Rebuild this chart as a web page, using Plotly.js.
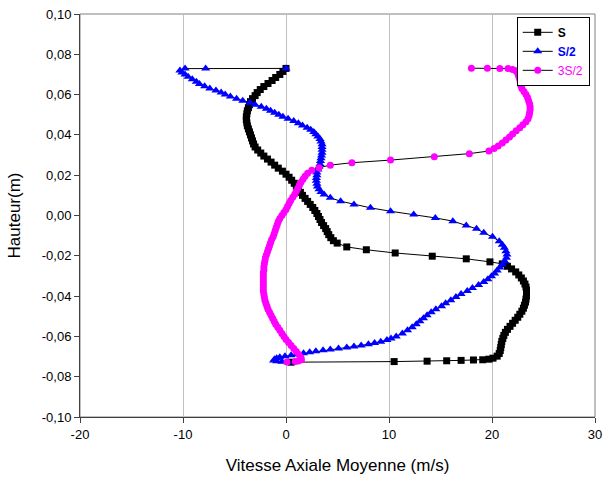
<!DOCTYPE html>
<html>
<head>
<meta charset="utf-8">
<script src="https://cdn.plot.ly/plotly-3.0.1.min.js"></script>
<style>html,body{margin:0;padding:0;background:#fff;}#chart{width:605px;height:486px;}</style>
</head>
<body>
<div id="chart"></div>
<script>
// ---- Series S (black squares) ----
const sVitesse = [0.0,-0.3,-0.6,-1.0,-1.35,-1.75,-2.15,-2.5,-2.8,-3.0,-3.25,-3.45,-3.55,-3.65,-3.75,-3.8,-3.85,-3.85,-3.8,-3.75,-3.65,-3.55,-3.45,-3.35,-3.25,-3.15,-3.0,-2.75,-2.45,-2.15,-1.8,-1.45,-1.1,-0.75,-0.35,0.0,0.3,0.55,0.8,1.0,1.2,1.4,1.6,1.85,2.1,2.35,2.6,2.8,3.0,3.15,3.3,3.45,3.65,3.85,4.0,4.15,4.35,4.6,4.97,5.9,7.8,10.6,14.2,17.5,19.8,21.0,21.5,21.9,22.3,22.6,22.85,23.05,23.2,23.3,23.35,23.35,23.35,23.3,23.25,23.15,23.05,22.9,22.7,22.5,22.25,22.0,21.75,21.5,21.3,21.15,21.05,20.95,20.9,20.85,20.8,20.7,20.5,20.1,19.7,19.1,18.2,17.0,15.6,13.7,10.5,0.5];
const sHauteur = [0.073,0.0715,0.070,0.0685,0.067,0.0655,0.064,0.0625,0.061,0.0595,0.058,0.0565,0.055,0.0535,0.052,0.0505,0.049,0.0475,0.046,0.0445,0.043,0.0415,0.040,0.0385,0.037,0.0355,0.034,0.0325,0.031,0.0295,0.028,0.0265,0.025,0.0235,0.022,0.0205,0.019,0.0175,0.016,0.0145,0.013,0.0115,0.010,0.0085,0.007,0.0055,0.004,0.0025,0.001,-0.0005,-0.002,-0.0035,-0.005,-0.0065,-0.008,-0.0095,-0.011,-0.0125,-0.0137,-0.0156,-0.017,-0.0186,-0.0202,-0.0215,-0.023,-0.024,-0.0252,-0.0265,-0.028,-0.0295,-0.031,-0.0325,-0.034,-0.0355,-0.037,-0.0385,-0.040,-0.0415,-0.043,-0.0445,-0.046,-0.0475,-0.049,-0.0505,-0.052,-0.0535,-0.055,-0.0565,-0.058,-0.0595,-0.061,-0.0625,-0.064,-0.0655,-0.067,-0.0685,-0.0698,-0.0708,-0.0713,-0.0716,-0.0717,-0.0719,-0.0721,-0.0723,-0.0725,-0.0728];

// ---- Series S/2 (blue triangles) ----
const s2Vitesse = [0.0,-7.8,-9.8,-10.3,-10.1,-9.8,-9.5,-9.1,-8.7,-8.4,-7.9,-7.4,-6.8,-6.3,-5.9,-5.4,-4.8,-4.2,-3.5,-3.0,-2.4,-1.9,-1.5,-1.1,-0.7,-0.3,0.2,0.75,1.2,1.6,2.05,2.4,2.7,2.9,3.1,3.3,3.4,3.5,3.5,3.5,3.5,3.45,3.4,3.35,3.3,3.2,3.1,3.0,3.0,2.95,2.95,3.0,3.05,3.2,3.4,3.7,4.3,5.3,6.6,8.2,10.15,12.4,14.5,16.2,17.5,18.5,19.2,20.05,20.7,21.0,21.2,21.35,21.45,21.4,21.25,21.0,20.75,20.5,20.25,19.95,19.6,19.2,18.7,18.1,17.6,17.0,16.5,16.0,15.5,15.1,14.55,14.1,13.7,13.35,13.0,12.65,12.25,11.8,11.3,10.7,10.2,9.8,9.2,8.6,8.0,7.3,6.6,5.9,5.1,4.3,3.6,2.9,2.3,1.7,1.1,0.5,-0.1,-0.6,-0.9,-1.1,-1.2,-0.9,-0.4,0.2];
const s2Hauteur = [0.0730,0.0730,0.0729,0.0720,0.0710,0.0700,0.0688,0.0676,0.0664,0.0652,0.0641,0.0630,0.0620,0.0610,0.0600,0.0590,0.0580,0.0570,0.0560,0.0550,0.0540,0.0530,0.0520,0.0510,0.0500,0.0490,0.0480,0.0469,0.0458,0.0447,0.0436,0.0425,0.0414,0.0403,0.0392,0.0380,0.0367,0.0354,0.0340,0.0326,0.0312,0.0298,0.0284,0.0270,0.0256,0.0242,0.0228,0.0214,0.0200,0.0186,0.0172,0.0158,0.0144,0.0130,0.0117,0.0104,0.0088,0.0071,0.0055,0.0038,0.0021,0.0005,-0.0012,-0.0028,-0.0050,-0.0066,-0.0086,-0.0106,-0.0128,-0.0145,-0.0160,-0.0177,-0.0194,-0.0210,-0.0227,-0.0243,-0.0258,-0.0273,-0.0288,-0.0302,-0.0316,-0.0330,-0.0345,-0.0360,-0.0375,-0.0390,-0.0405,-0.0420,-0.0435,-0.0450,-0.0465,-0.0480,-0.0495,-0.0510,-0.0525,-0.0540,-0.0555,-0.0570,-0.0585,-0.0600,-0.0610,-0.0618,-0.0626,-0.0633,-0.0639,-0.0645,-0.0650,-0.0655,-0.0660,-0.0665,-0.0669,-0.0674,-0.0679,-0.0684,-0.0689,-0.0694,-0.0699,-0.0704,-0.0709,-0.0714,-0.0719,-0.0723,-0.0726,-0.0728];

// ---- Series 3S/2 (magenta circles) ----
const s3Vitesse = [18.0,19.55,20.76,21.56,22.0,22.3,22.5,22.6,22.7,22.75,22.8,22.9,23.1,23.3,23.45,23.55,23.65,23.7,23.7,23.65,23.6,23.5,23.3,23.0,22.7,22.35,22.0,21.7,21.35,21.0,20.6,20.2,19.7,17.8,14.4,10.15,6.4,4.3,3.2,2.5,2.1,1.85,1.65,1.45,1.3,1.15,1.0,0.85,0.65,0.45,0.3,0.15,0.0,-0.2,-0.4,-0.6,-0.75,-0.85,-0.95,-1.05,-1.15,-1.25,-1.4,-1.5,-1.6,-1.7,-1.8,-1.9,-2.0,-2.05,-2.1,-2.15,-2.15,-2.2,-2.2,-2.2,-2.2,-2.2,-2.2,-2.2,-2.15,-2.1,-2.05,-1.95,-1.85,-1.75,-1.6,-1.45,-1.3,-1.15,-1.0,-0.8,-0.6,-0.4,-0.2,0.0,0.25,0.5,0.75,1.0,1.25,1.45,1.5,1.2,0.9,0.1];
const s3Hauteur = [0.0731,0.0731,0.0729,0.0729,0.0725,0.0718,0.0705,0.069,0.0675,0.066,0.0645,0.063,0.0615,0.060,0.0585,0.057,0.0555,0.054,0.0525,0.051,0.0495,0.048,0.0465,0.045,0.0435,0.042,0.0405,0.039,0.0375,0.036,0.0345,0.0333,0.032,0.0307,0.0292,0.0275,0.0262,0.025,0.0237,0.0225,0.021,0.0195,0.018,0.0165,0.015,0.0135,0.012,0.0105,0.009,0.0075,0.006,0.0045,0.003,0.0015,0.0,-0.0015,-0.003,-0.0045,-0.006,-0.0075,-0.009,-0.0105,-0.012,-0.0135,-0.015,-0.0165,-0.018,-0.0195,-0.021,-0.0225,-0.024,-0.0255,-0.027,-0.0285,-0.030,-0.0315,-0.033,-0.0345,-0.036,-0.0375,-0.039,-0.0405,-0.042,-0.0435,-0.045,-0.0465,-0.048,-0.0495,-0.051,-0.0525,-0.054,-0.0555,-0.057,-0.0585,-0.060,-0.0615,-0.063,-0.0645,-0.066,-0.0675,-0.069,-0.0705,-0.0716,-0.0722,-0.0725,-0.0727];

// ---- Axis ticks ----
const xTickVals = [-20,-10,0,10,20,30];
const xTickText = ['-20','-10','0','10','20','30'];
const yTickVals = [-0.10,-0.08,-0.06,-0.04,-0.02,0.00,0.02,0.04,0.06,0.08,0.10];
const yTickText = ['-0,10','-0,08','-0,06','-0,04','-0,02','0,00','0,02','0,04','0,06','0,08','0,10'];

const FONT = 'Arial, "Liberation Sans", sans-serif';

const traces = [
  {x: sVitesse, y: sHauteur, name: '<b>S</b>', type: 'scatter', mode: 'lines+markers',
   line: {color: '#000000', width: 1},
   marker: {symbol: 'square', size: 7, color: '#000000'}},
  {x: s2Vitesse, y: s2Hauteur, name: '<b><span style="color:#0000ff">S/2</span></b>', type: 'scatter', mode: 'lines+markers',
   line: {color: '#000000', width: 1},
   marker: {symbol: 'triangle-up', size: 8, color: '#0000ff'}},
  {x: s3Vitesse, y: s3Hauteur, name: '<span style="color:#ff00ff">3S/2</span>', type: 'scatter', mode: 'lines+markers',
   line: {color: '#000000', width: 1},
   marker: {symbol: 'circle', size: 7, color: '#ff00ff'}}
];

const layout = {
  width: 605, height: 486,
  margin: {l: 80, r: 10, t: 14, b: 69},
  paper_bgcolor: '#ffffff', plot_bgcolor: '#ffffff',
  font: {family: FONT, size: 13, color: '#000000'},
  showlegend: true,
  legend: {x: 0.848, y: 0.993, xanchor: 'left', yanchor: 'top', bgcolor: '#ffffff',
           bordercolor: '#000000', borderwidth: 1, font: {family: FONT, size: 12, color: '#000000'},
           tracegroupgap: 0, itemwidth: 30},
  shapes: [
    {type: 'rect', xref: 'paper', yref: 'paper', x0: 0, x1: 1, y0: 0, y1: 1,
     line: {color: '#808080', width: 1}, fillcolor: 'rgba(0,0,0,0)', layer: 'below'}
  ],
  xaxis: {range: [-20, 30], tickvals: xTickVals, ticktext: xTickText,
          showgrid: true, gridcolor: '#c0c0c0', gridwidth: 1, zeroline: false,
          showline: true, linecolor: '#404040', linewidth: 1,
          ticks: 'outside', ticklen: 5, tickcolor: '#404040',
          tickfont: {family: FONT, size: 13, color: '#000000'},
          title: {text: 'Vitesse Axiale Moyenne (m/s)', font: {family: FONT, size: 17, color: '#000000'}, standoff: 18}},
  yaxis: {range: [-0.10, 0.10], tickvals: yTickVals, ticktext: yTickText,
          showgrid: false, zeroline: false,
          showline: true, linecolor: '#404040', linewidth: 1,
          ticks: 'outside', ticklen: 5, tickcolor: '#404040',
          tickfont: {family: FONT, size: 13, color: '#000000'},
          title: {text: 'Hauteur(m)', font: {family: FONT, size: 17, color: '#000000'}, standoff: 16}}
};

Plotly.newPlot('chart', traces, layout, {displayModeBar: false, staticPlot: true});
</script>
</body>
</html>
